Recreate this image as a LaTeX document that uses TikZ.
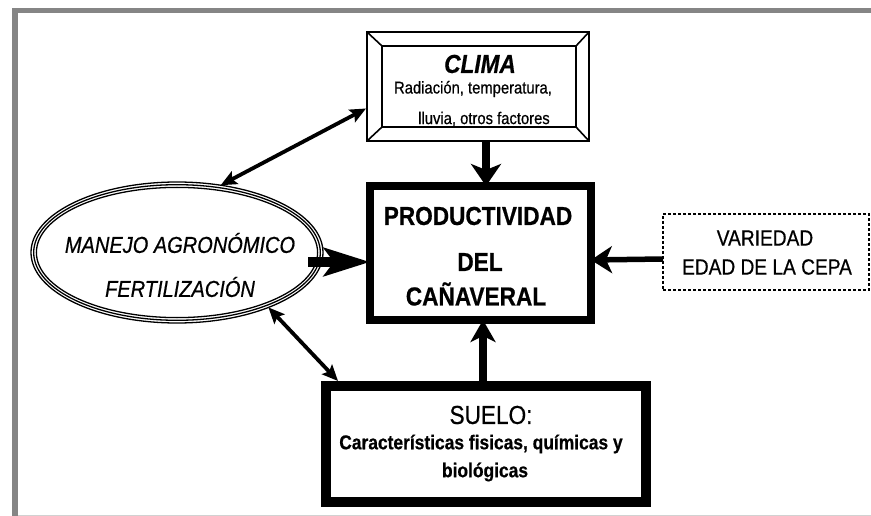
\documentclass[tikz,border=0pt]{standalone}
\usepackage{fontspec}
\setmainfont{Liberation Sans}
\newfontfamily\nar[FakeStretch=0.87,FakeBold=0.6]{Liberation Sans}
\usetikzlibrary{arrows.meta,shapes.geometric,calc}
\newcommand{\fsz}[1]{\fontsize{#1pt}{#1pt}\selectfont}
\tikzset{
  txt/.style={inner sep=0pt, outer sep=0pt, anchor=center},
  bigbox/.style={draw, rectangle, inner sep=0pt, outer sep=0pt},
  thinarr/.style={line width=3.8pt, {Stealth[length=16pt,width=14pt,inset=3pt]}-{Stealth[length=16pt,width=14pt,inset=3pt]}},
}
\begin{document}
\begin{tikzpicture}[x=1pt,y=-1pt,font=\nar]
\useasboundingbox (0,0) rectangle (871,516);
% outer frame
\fill[white] (0,0) rectangle (871,516);
\fill[black!48] (12,8) rectangle (18,516);
\fill[black!48] (12,8) rectangle (871,13.5);
\fill[black!18] (18,514.5) rectangle (871,516);

% CLIMA frame box
\node[bigbox, line width=2.3pt, minimum width=222pt, minimum height=109pt] (clima) at (478,86.5) {};
\coordinate (cinw) at ($(clima.north west)+(15,14)$);
\coordinate (cise) at ($(clima.south east)+(-13,-14)$);
\coordinate (cine) at (cise |- cinw);
\coordinate (cisw) at (cinw |- cise);
\draw[line width=2.3pt] (cinw) rectangle (cise);
\draw[line width=1.6pt] (clima.north west) -- (cinw);
\draw[line width=1.6pt] (clima.north east) -- (cine);
\draw[line width=1.6pt] (clima.south west) -- (cisw);
\draw[line width=1.6pt] (clima.south east) -- (cise);
\node[txt, font=\nar\bfseries\itshape\fsz{26}] (climat) at (480,64) {CLIMA};
\node[txt, font=\nar\fsz{17}] (climat2) at (473,89) {Radiación, temperatura,};
\node[txt, font=\nar\fsz{17}] (climat3) at (484,119) {lluvia, otros factores};

% PRODUCTIVIDAD
\node[bigbox, line width=7.5pt, minimum width=221pt, minimum height=134pt] (prod) at (480.5,253) {};
\node[txt, font=\nar\bfseries\fsz{26}] (prodt1) at (478,216) {PRODUCTIVIDAD};
\node[txt, font=\nar\bfseries\fsz{26}] (prodt2) at (480,262) {DEL};
\node[txt, font=\nar\bfseries\fsz{26}] (prodt3) at (476,294) {CAÑAVERAL};

% VARIEDAD
\node[bigbox, line width=2.6pt, dash pattern=on 3pt off 2pt, minimum width=206pt, minimum height=76pt] (var) at (766,252) {};
\node[txt, font=\nar\fsz{22}] (vart1) at (765,238) {VARIEDAD};
\node[txt, font=\nar\fsz{22}] (vart2) at (767,267) {EDAD DE LA CEPA};

% SUELO
\node[bigbox, line width=10pt, minimum width=320pt, minimum height=116pt] (suelo) at (486,444) {};
\node[txt, font=\nar\fsz{26}] (suelot1) at (491,415) {SUELO:};
\node[txt, font=\nar\bfseries\fsz{20}] (suelot2) at (481,444) {Características fisicas, químicas y};
\node[txt, font=\nar\bfseries\fsz{20}] (suelot3) at (485,472) {biológicas};

% MANEJO ellipse
\node[ellipse, inner sep=0pt, outer sep=0pt, minimum width=292pt, minimum height=141pt] (man) at (177,252.5) {};
\draw[line width=1.3pt] (man.center) ellipse [x radius=146, y radius=70.5];
\draw[line width=1.3pt] (man.center) ellipse [x radius=143.3, y radius=67.8];
\draw[line width=1.3pt] (man.center) ellipse [x radius=140.6, y radius=65.1];
\node[txt, font=\nar\itshape\fsz{23}] (mant1) at (180,243) {MANEJO AGRONÓMICO};
\node[txt, font=\nar\itshape\fsz{23}] (mant2) at (180,287) {FERTILIZACIÓN};

% arrows
\draw[line width=8pt, -{Stealth[length=22pt,width=30pt,inset=6pt]}] ($(clima.south)+(8,0)$) -- ($(prod.north)+(5.5,0)$);
\draw[line width=8pt, -{Stealth[length=22pt,width=25pt,inset=6pt]}] ($(suelo.north)+(-3,-5)$) -- ($(prod.south)+(2.5,0)$);
\draw[line width=5.5pt, -{Stealth[length=21pt,width=27pt,inset=6pt]}] ($(var.west)+(0,7)$) -- ($(prod.east)+(0,7)$);
\draw[line width=10pt, -{Stealth[length=46pt,width=28pt,inset=10pt]}] ($(man.center)+(131,9.5)$) -- ($(prod.west)+(0,9)$);
\draw[thinarr] ($(clima.west)+(-1,22)$) -- (man.57);
\draw[thinarr] (man.-31.5) -- ($(suelo.north west)+(12,-5)$);
\end{tikzpicture}
\end{document}
